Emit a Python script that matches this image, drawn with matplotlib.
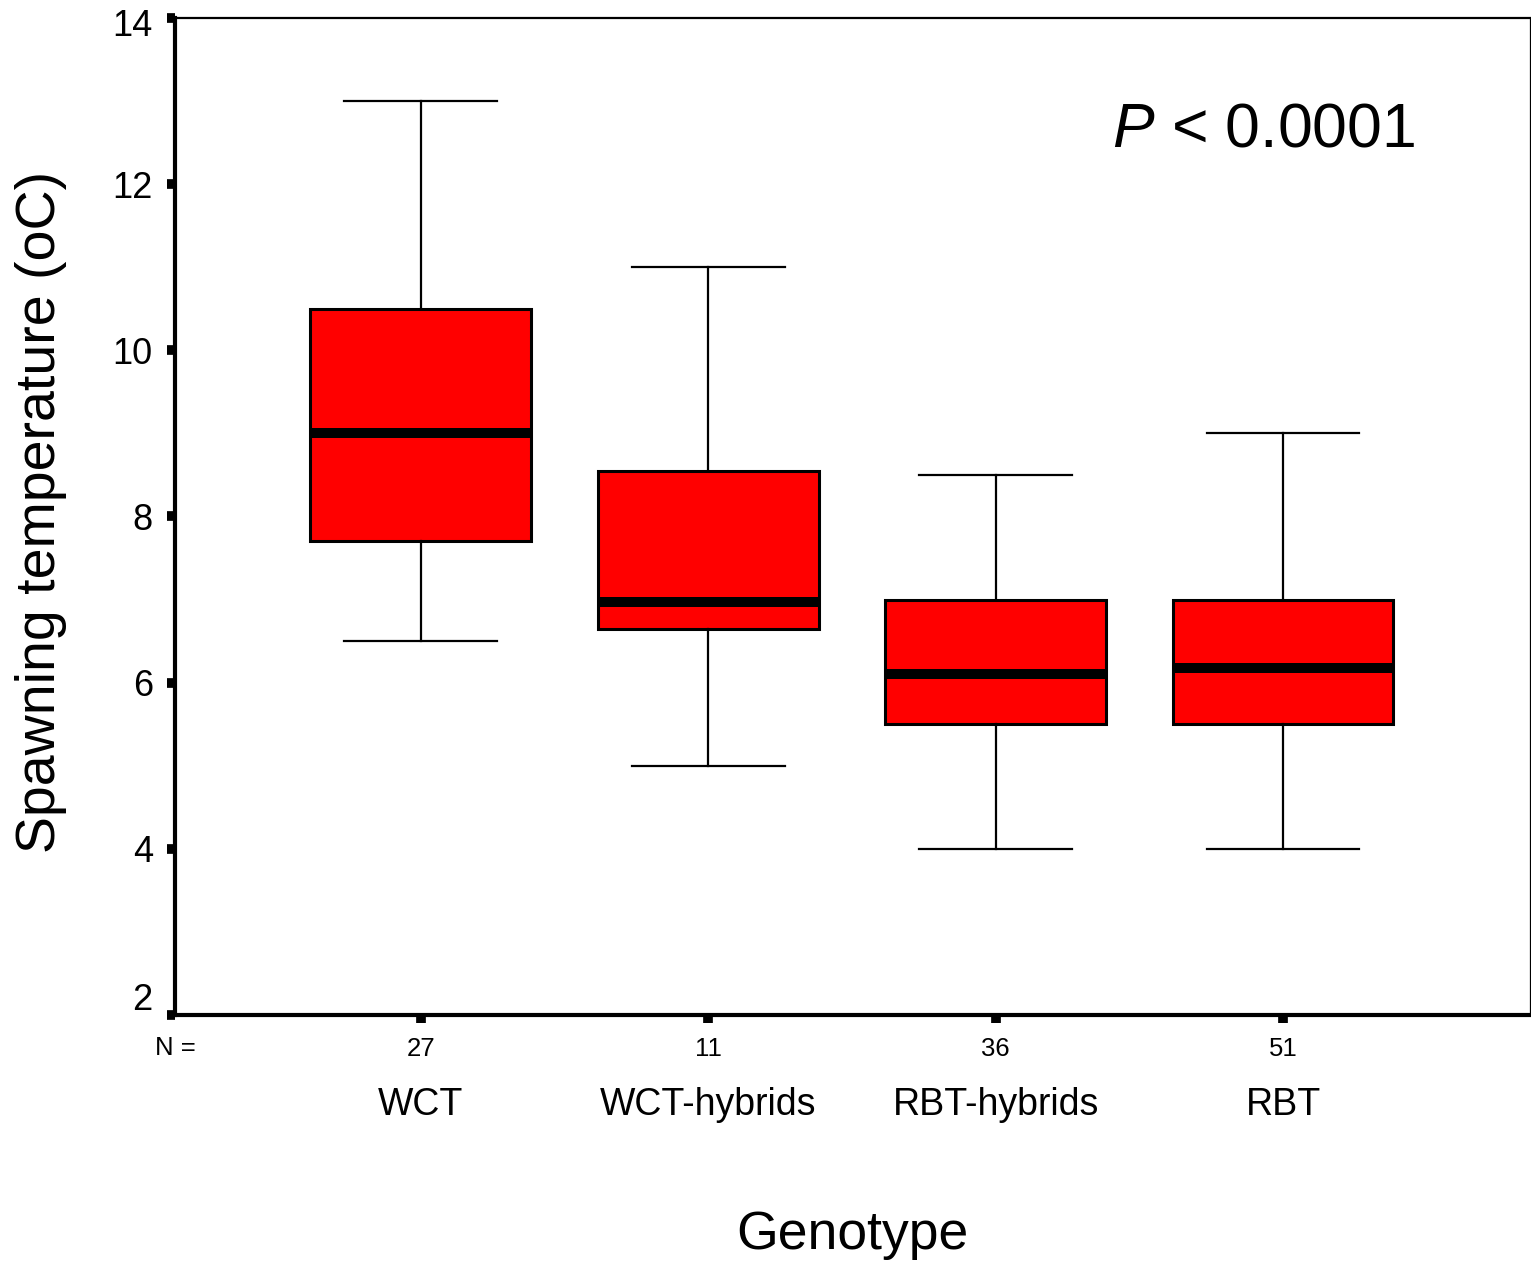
import matplotlib
matplotlib.use('Agg')
import matplotlib.pyplot as plt
import matplotlib.transforms as mtransforms

plt.rcParams['font.family'] = ['Liberation Sans', 'DejaVu Sans']
plt.rcParams['mathtext.fontset'] = 'custom'
plt.rcParams['mathtext.rm'] = 'Liberation Sans'
plt.rcParams['mathtext.it'] = 'Liberation Sans:italic'

# data
genotypes = ['WCT', 'WCT-hybrids', 'RBT-hybrids', 'RBT']
n_counts = [27, 11, 36, 51]
whisker_low = [6.5, 5.0, 4.0, 4.0]
q1 = [7.7, 6.65, 5.5, 5.5]
medians = [9.0, 6.97, 6.1, 6.18]
q3 = [10.5, 8.55, 7.0, 7.0]
whisker_high = [13.0, 11.0, 8.5, 9.0]

stats = []
for i, g in enumerate(genotypes):
    stats.append({'label': g, 'whislo': whisker_low[i], 'q1': q1[i],
                  'med': medians[i], 'q3': q3[i], 'whishi': whisker_high[i],
                  'fliers': []})

fig = plt.figure(figsize=(15.31, 12.63), dpi=100)
ax = fig.add_axes([0.1143, 0.1964, 0.8850, 0.7894])

pos = list(range(1, len(genotypes) + 1))
ax.bxp(stats, positions=pos, widths=0.768, patch_artist=True,
       showfliers=False,
       boxprops=dict(facecolor='#ff0000', edgecolor='black', linewidth=2.2),
       medianprops=dict(color='black', linewidth=7.2, solid_capstyle='butt'),
       whiskerprops=dict(color='black', linewidth=1.6),
       capprops=dict(color='black', linewidth=1.6),
       capwidths=0.532)

ax.set_xlim(0.145, 4.859)
ax.set_ylim(2, 14)
ax.set_yticks([2, 4, 6, 8, 10, 12, 14])
ax.set_xticks(pos)
ax.set_xticklabels([str(n) for n in n_counts], fontsize=18.5)

ax.tick_params(axis='y', labelsize=26, length=6, width=7, pad=10)
ax.tick_params(axis='x', length=6, width=7, pad=10)

# SPSS-style: lowest y label sits above the axis corner, top one a bit lower
ticks = ax.yaxis.get_major_ticks()
lab0 = ticks[0].label1
lab0.set_transform(lab0.get_transform() + mtransforms.ScaledTranslation(0, 18 / 100, fig.dpi_scale_trans))
labn = ticks[-1].label1
labn.set_transform(labn.get_transform() + mtransforms.ScaledTranslation(0, -5 / 100, fig.dpi_scale_trans))

ax.spines['left'].set_linewidth(3)
ax.spines['bottom'].set_linewidth(3)
ax.spines['top'].set_linewidth(1.6)
ax.spines['right'].set_linewidth(0.9)

trans = mtransforms.blended_transform_factory(ax.transData, fig.transFigure)
for p, g in zip(pos, genotypes):
    ax.text(p, 1 - 1105 / 1263, g, transform=trans, ha='center', va='center',
            fontsize=27)
ax.text(0.0, 1 - 1048 / 1263, 'N =', transform=mtransforms.blended_transform_factory(ax.transAxes, fig.transFigure),
        ha='center', va='center', fontsize=18.5)

fig.text(0.5566, 1 - 1235 / 1263, 'Genotype', ha='center', va='center', fontsize=38.5)
fig.text(0.027, 0.595, 'Spawning temperature (oC)', rotation=90,
         ha='center', va='center', fontsize=40)

ax.text(1112 / 1531, 1 - 130 / 1263, r'$\it{P}$ < 0.0001',
        transform=fig.transFigure, ha='left', va='center', fontsize=45)

fig.savefig('out.png', dpi=100)
